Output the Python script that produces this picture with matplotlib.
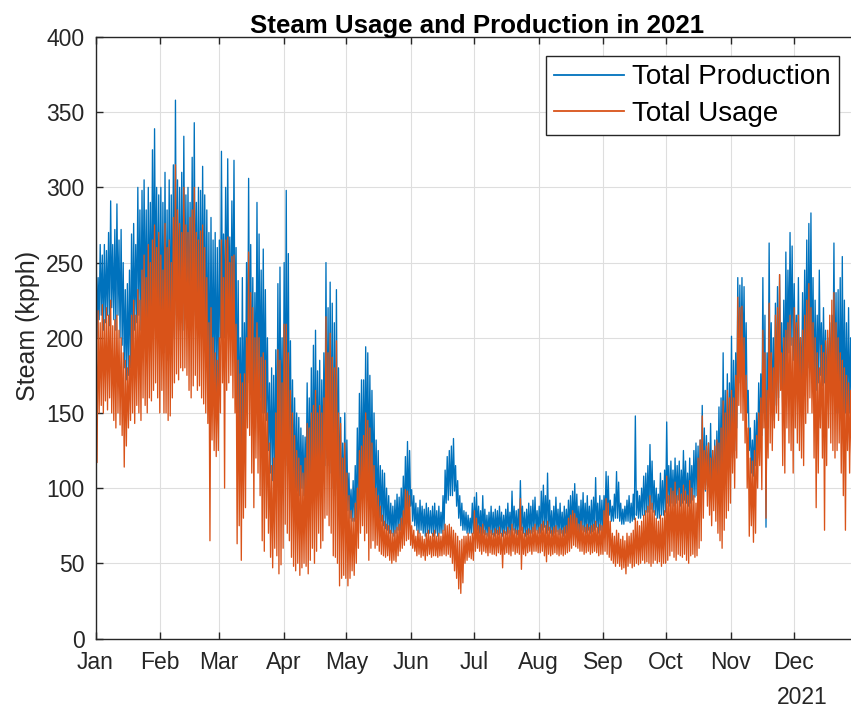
import numpy as np
import matplotlib
matplotlib.use('Agg')
import matplotlib.pyplot as plt

plt.rcParams['font.family'] = ['Liberation Sans', 'DejaVu Sans']

# daily peak / trough readings (kpph), Jan 1 .. Dec 31 2021
prod_high = [
    # Jan
    265, 240, 262, 255, 262, 258, 270, 291, 262, 272, 289, 265, 272, 250, 232, 236,
    245, 269, 276, 262, 300, 285, 298, 305, 285, 300, 290, 325, 339, 300, 295,
    # Feb
    300, 290, 310, 285, 305, 295, 315, 358, 305, 300, 310, 334, 295, 300, 290, 320,
    343, 290, 300, 298, 314, 295, 285, 270, 280, 265, 270, 260,
    # Mar
    265, 324, 269, 300, 319, 267, 291, 318, 260, 238, 200, 240, 210, 250, 306, 262,
    240, 230, 290, 269, 245, 259, 232, 200, 170, 180, 175, 192, 236, 247, 200,
    # Apr
    250, 298, 256, 198, 172, 160, 150, 147, 140, 135, 134, 170, 160, 180, 195, 205,
    178, 185, 172, 190, 250, 220, 237, 223, 210, 232, 180, 147, 130, 150,
    # May
    132, 110, 99, 105, 115, 140, 163, 172, 172, 194, 190, 175, 165, 150, 132, 125,
    115, 112, 110, 100, 95, 90, 88, 92, 96, 94, 100, 108, 121, 131, 125,
    # Jun
    99, 95, 90, 87, 92, 88, 86, 90, 87, 85, 88, 90, 85, 88, 84, 95,
    112, 121, 125, 128, 133, 115, 105, 95, 90, 85, 84, 82, 80, 90,
    # Jul
    94, 97, 88, 85, 95, 86, 82, 84, 88, 84, 86, 85, 88, 84, 82, 86,
    90, 84, 98, 88, 85, 86, 105, 88, 84, 86, 90, 88, 92, 94, 85,
    # Aug
    88, 98, 102, 95, 110, 92, 85, 88, 94, 86, 90, 84, 88, 86, 92, 95,
    98, 103, 96, 88, 92, 97, 90, 95, 88, 92, 94, 107, 90, 95, 92,
    # Sep
    95, 111, 108, 92, 88, 96, 111, 104, 90, 86, 88, 92, 95, 90, 96, 148,
    98, 95, 100, 108, 110, 115, 129, 118, 105, 100, 96, 110, 105, 112,
    # Oct
    144, 115, 118, 112, 120, 115, 118, 112, 125, 118, 110, 120, 115, 125, 130, 128,
    132, 155, 140, 135, 130, 143, 125, 132, 138, 154, 160, 190, 165, 176, 170,
    # Nov
    201, 185, 190, 240, 235, 240, 234, 210, 165, 140, 132, 145, 150, 170, 176, 240,
    215, 190, 263, 210, 200, 223, 234, 242, 210, 225, 257, 245, 270, 261,
    # Dec
    236, 215, 240, 200, 230, 245, 265, 276, 283, 240, 225, 215, 245, 210, 220, 205,
    200, 210, 215, 263, 230, 232, 240, 254, 225, 210, 220, 200, 215, 210, 205,
]

prod_low = [
    200, 212, 215, 205, 210, 215, 208, 220, 212, 205, 215, 200, 195, 180, 172, 175,
    180, 195, 205, 210, 215, 205, 215, 210, 200, 215, 205, 225, 230, 210, 200,
    195, 190, 195, 185, 190, 200, 200, 215, 205, 210, 205, 220, 210, 200, 205, 210,
    215, 210, 200, 205, 210, 195, 175, 150, 165, 170, 160, 165,
    200, 215, 200, 210, 220, 205, 210, 195, 150, 140, 125, 135, 150, 170, 175, 165,
    150, 155, 165, 160, 150, 150, 145, 125, 110, 105, 100, 110, 115, 120, 115,
    120, 115, 110, 105, 100, 100, 98, 95, 100, 95, 100, 105, 100, 100, 105, 110,
    105, 100, 110, 115, 120, 115, 110, 100, 95, 100, 90, 88, 87, 90,
    85, 80, 78, 78, 80, 85, 100, 105, 110, 115, 110, 105, 100, 90, 85, 80,
    78, 75, 73, 72, 70, 70, 68, 70, 72, 72, 74, 78, 82, 85, 88,
    78, 75, 72, 70, 72, 70, 68, 70, 70, 70, 68, 70, 68, 70, 70, 72,
    90, 92, 95, 95, 98, 88, 80, 75, 72, 72, 70, 70, 70, 70,
    70, 72, 70, 68, 70, 69, 68, 70, 69, 68, 70, 69, 70, 68, 70, 69,
    70, 68, 72, 70, 69, 70, 72, 70, 68, 69, 70, 70, 71, 72, 70,
    70, 72, 74, 70, 72, 70, 68, 70, 71, 69, 70, 68, 70, 70, 72, 72,
    73, 74, 72, 70, 72, 71, 70, 72, 70, 71, 72, 74, 70, 72, 71,
    78, 80, 82, 78, 78, 80, 80, 78, 76, 76, 78, 78, 77, 78, 79, 82,
    80, 80, 82, 82, 84, 84, 86, 84, 82, 80, 80, 82, 82, 84,
    90, 88, 90, 88, 90, 92, 88, 90, 92, 90, 88, 90, 92, 94, 95, 96,
    98, 100, 98, 102, 100, 98, 100, 96, 100, 102, 105, 108, 112, 115, 120,
    120, 125, 140, 170, 175, 180, 165, 150, 125, 110, 108, 115, 120, 130, 135, 150,
    74, 140, 160, 150, 145, 155, 160, 170, 150, 165, 175, 190, 195, 185,
    175, 170, 168, 165, 172, 175, 180, 185, 170, 160, 165, 170, 175, 168, 170, 160,
    165, 168, 170, 160, 150, 150, 148, 145, 150, 148, 150, 148, 150, 150, 150,
]

use_high = [
    215, 218, 210, 222, 212, 220, 215, 225, 208, 212, 215, 205, 200, 190, 185, 180,
    188, 215, 225, 215, 232, 225, 245, 255, 240, 262, 250, 265, 275, 260, 270,
    255, 245, 276, 260, 265, 250, 280, 315, 285, 276, 270, 300, 275, 270, 280, 285,
    300, 270, 265, 271, 275, 260, 240, 210, 220, 200, 190, 185,
    200, 265, 240, 265, 267, 250, 254, 255, 209, 185, 176, 170, 176, 200, 257, 230,
    220, 200, 210, 200, 187, 190, 185, 150, 130, 115, 120, 150, 192, 185, 170,
    209, 209, 190, 165, 150, 135, 125, 120, 115, 110, 120, 143, 140, 150, 155, 165,
    150, 155, 150, 160, 214, 190, 203, 187, 180, 198, 150, 143, 120, 130,
    110, 95, 85, 80, 90, 100, 125, 128, 135, 150, 145, 140, 130, 115, 100, 95,
    88, 82, 78, 76, 75, 72, 70, 72, 74, 76, 80, 85, 99, 98, 95,
    75, 72, 68, 72, 70, 68, 66, 70, 72, 68, 70, 72, 68, 70, 68, 72,
    76, 75, 76, 74, 72, 70, 68, 65, 66, 68, 68, 70, 68, 70,
    85, 80, 75, 74, 76, 72, 70, 74, 72, 70, 73, 72, 74, 70, 72, 71,
    74, 72, 76, 73, 72, 72, 93, 74, 70, 72, 73, 72, 74, 76, 72,
    74, 76, 78, 75, 78, 74, 72, 74, 75, 72, 73, 72, 74, 75, 80, 82,
    85, 83, 80, 76, 78, 75, 74, 76, 74, 75, 76, 78, 74, 76, 75,
    85, 93, 90, 78, 70, 68, 72, 70, 66, 68, 65, 70, 68, 70, 72, 80,
    78, 75, 78, 82, 85, 88, 95, 90, 85, 80, 78, 82, 80, 85,
    108, 95, 100, 98, 104, 95, 100, 96, 102, 98, 95, 105, 100, 95, 90, 120,
    132, 148, 125, 128, 130, 120, 125, 128, 132, 130, 140, 158, 150, 165, 160,
    165, 160, 175, 227, 220, 221, 200, 175, 140, 120, 118, 125, 135, 150, 160, 205,
    190, 165, 223, 190, 180, 215, 220, 242, 190, 200, 205, 210, 215, 200,
    220, 210, 215, 200, 205, 215, 225, 236, 220, 210, 200, 190, 180, 195, 190, 198,
    205, 215, 225, 230, 210, 200, 190, 185, 180, 175, 170, 165, 165, 170, 165,
]

use_low = [
    117, 150, 155, 150, 158, 152, 160, 150, 145, 140, 150, 142, 135, 114, 128, 140,
    145, 150, 143, 155, 150, 145, 160, 155, 150, 160, 158, 165, 170, 160, 150,
    165, 150, 150, 145, 148, 160, 170, 176, 172, 180, 178, 180, 175, 165, 160, 168,
    175, 165, 168, 160, 156, 150, 143, 65, 132, 125, 121, 125,
    150, 170, 100, 165, 170, 175, 160, 150, 63, 75, 52, 80, 87, 140, 135, 110,
    87, 120, 110, 95, 65, 58, 80, 70, 54, 47, 60, 55, 43, 49, 60,
    76, 70, 65, 54, 48, 45, 50, 42, 47, 50, 48, 43, 52, 60, 50, 58,
    70, 60, 65, 80, 82, 75, 70, 55, 54, 50, 35, 40, 42, 40,
    35, 40, 45, 42, 50, 60, 70, 75, 65, 70, 52, 60, 65, 60, 62, 58,
    56, 55, 54, 55, 52, 50, 52, 51, 55, 58, 60, 62, 65, 66, 62,
    60, 58, 55, 56, 54, 55, 52, 55, 56, 54, 55, 55, 54, 55, 55, 56,
    55, 56, 54, 50, 45, 40, 33, 30, 37, 50, 52, 54, 53, 52,
    58, 60, 58, 56, 58, 57, 55, 57, 56, 56, 55, 57, 56, 47, 56, 57,
    56, 55, 58, 56, 57, 56, 46, 56, 55, 57, 58, 56, 58, 58, 57,
    57, 58, 55, 51, 56, 55, 56, 57, 56, 55, 56, 55, 56, 57, 58, 60,
    62, 61, 60, 58, 58, 56, 57, 58, 56, 57, 58, 57, 55, 56, 56,
    58, 56, 54, 52, 50, 48, 50, 48, 46, 47, 43, 48, 50, 47, 48, 50,
    49, 50, 52, 50, 51, 50, 48, 50, 52, 50, 51, 48, 50, 50,
    52, 55, 58, 54, 52, 56, 55, 54, 56, 52, 50, 55, 56, 54, 55, 60,
    65, 80, 99, 88, 82, 75, 85, 78, 70, 65, 60, 72, 80, 85, 90,
    110, 100, 120, 155, 150, 145, 130, 100, 68, 75, 64, 70, 100, 115, 99, 140,
    80, 120, 130, 125, 140, 150, 145, 165, 115, 110, 140, 130, 125, 110,
    140, 130, 125, 120, 115, 143, 150, 160, 150, 120, 87, 110, 140, 120, 72, 115,
    140, 130, 125, 120, 125, 130, 110, 95, 72, 125, 110, 120, 115, 120, 118,
]

month_starts = np.arange('2021-01', '2022-01', dtype='datetime64[M]').astype('datetime64[D]')
month_names = ['Jan', 'Feb', 'Mar', 'Apr', 'May', 'Jun',
               'Jul', 'Aug', 'Sep', 'Oct', 'Nov', 'Dec']

# morning peak, evening trough for each day
days = np.datetime64('2021-01-01T00:00') + np.arange(len(prod_high)) * np.timedelta64(1, 'D')
t = np.empty(2 * len(days), dtype='datetime64[m]')
t[0::2] = days + np.timedelta64(6, 'h')
t[1::2] = days + np.timedelta64(18, 'h')

prod = np.empty(len(t))
prod[0::2] = prod_high
prod[1::2] = prod_low
use = np.empty(len(t))
use[0::2] = use_high
use[1::2] = use_low

blue = '#0072BD'
orange = '#D95319'
dark = '#262626'

fig = plt.figure(figsize=(8.51, 7.09), dpi=100)
ax = fig.add_axes([95.5 / 851, 70.5 / 709, 763 / 851, 601.5 / 709])

ax.plot(t, prod, color=blue, lw=0.95, label='Total Production')
ax.plot(t, use, color=orange, lw=0.95, label='Total Usage')

ax.set_xlim(np.datetime64('2021-01-01'), np.datetime64('2022-01-01'))
ax.set_ylim(0, 400)
ax.set_yticks(np.arange(0, 401, 50))
ax.set_xticks(month_starts)
ax.set_xticklabels(month_names)

ax.grid(True, color='#dedede', lw=0.8)
ax.set_axisbelow(True)
for s in ax.spines.values():
    s.set_color(dark)
    s.set_linewidth(1.0)
ax.tick_params(direction='in', length=5, width=1.0, color=dark,
               top=True, right=True, labelsize=16.5, labelcolor=dark)
ax.tick_params(axis='x', pad=9)
ax.tick_params(axis='y', pad=8)

ax.set_ylabel('Steam (kpph)', fontsize=18, color=dark)
ax.yaxis.set_label_coords((40 - 95.5) / 763, 1 - (326 - 37) / 601.5)
ax.set_title('Steam Usage and Production in 2021', fontsize=18.6,
             fontweight='bold', color='black', pad=3)

leg = ax.legend(loc='upper right', bbox_to_anchor=(0.9744, 0.9684), borderaxespad=0,
                fontsize=20, handlelength=2.5, handletextpad=0.3, borderpad=0.3,
                labelspacing=0.37, fancybox=False, framealpha=1)
leg.get_frame().set_edgecolor(dark)
leg.get_frame().set_linewidth(1.0)
for line in leg.get_lines():
    line.set_linewidth(1.3)

fig.text(828 / 851, 1 - 697 / 709, '2021', ha='right', va='center',
         fontsize=16.5, color=dark)

fig.savefig('out.png', dpi=100)
